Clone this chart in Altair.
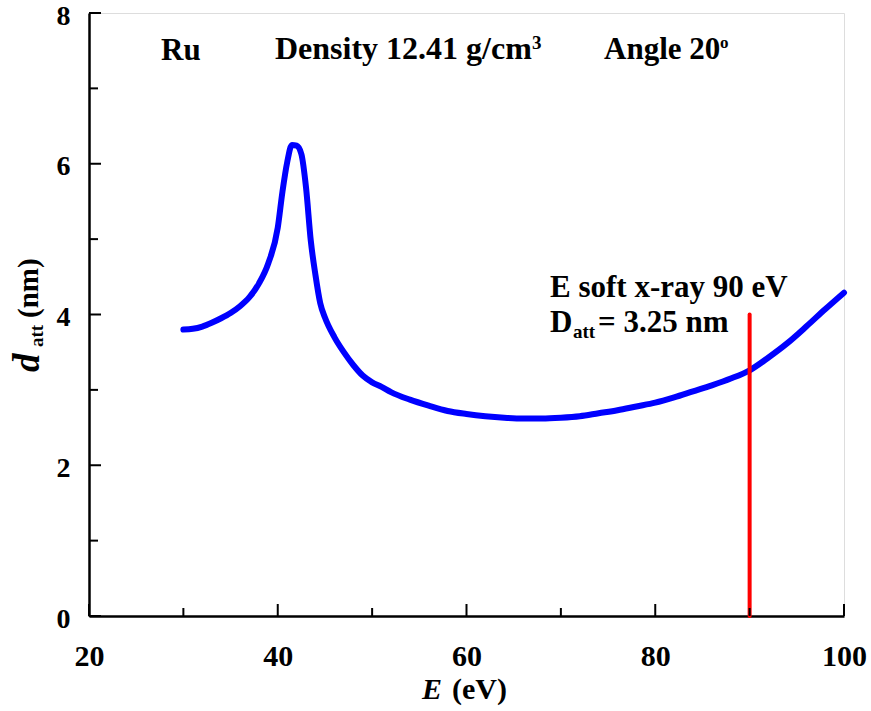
import altair as alt
import pandas as pd

# ---- data ----
energy = [30, 31, 32, 33, 34, 35, 36, 37, 38, 39, 40, 40.5, 41, 41.5, 42, 42.5, 43, 43.5, 44, 44.5, 45,
          46, 47, 48, 49, 50, 51, 52, 54, 56, 58, 60, 62, 64, 66, 68, 70, 72, 74, 76, 78, 80,
          82, 84, 86, 88, 90, 92, 94, 96, 98, 100]
d_att = [3.80, 3.81, 3.84, 3.89, 3.95, 4.02, 4.11, 4.23, 4.41, 4.68, 5.15, 5.63, 6.02, 6.25, 6.24, 6.13, 5.68, 4.98, 4.52, 4.15, 3.96,
         3.70, 3.50, 3.33, 3.19, 3.10, 3.04, 2.97, 2.87, 2.79, 2.72, 2.68, 2.65, 2.63, 2.62, 2.62, 2.63, 2.65, 2.69, 2.73, 2.78, 2.83,
         2.90, 2.98, 3.06, 3.15, 3.26, 3.43, 3.62, 3.84, 4.07, 4.29]

marker_energy = [90]
marker_top = [4]

x_major = [20, 40, 60, 80, 100]
x_minor = [30, 50, 70, 90]
y_major = [0, 2, 4, 6, 8]
y_minor = [1, 3, 5, 7]

FONT = "Liberation Serif"
W, H = 755, 603

curve_df = pd.DataFrame({"E": energy, "d": d_att})
marker_df = pd.DataFrame({"E": marker_energy, "y0": [0], "y1": marker_top})

xs = alt.Scale(domain=[20, 100], nice=False, zero=False)
ys = alt.Scale(domain=[0, 8], nice=False, zero=False)

base_x_axis = alt.Axis(values=x_major, format="d", title=None, ticks=False, grid=False,
                       domainColor="black", domainWidth=2.5, labelFont=FONT, labelFontSize=30,
                       labelFontWeight="bold", labelColor="black", labelPadding=25, labelFlush=False)
base_y_axis = alt.Axis(values=y_major, format="d", title=None, ticks=False, grid=False,
                       domainColor="black", domainWidth=2.5, labelFont=FONT, labelFontSize=28,
                       labelFontWeight="bold", labelColor="black", labelPadding=19, labelOffset=3,
                       labelFlush=False)

curve = alt.Chart(curve_df).mark_line(color="#0000FF", strokeWidth=6, strokeCap="round",
                                      strokeJoin="round", interpolate="monotone").encode(
    x=alt.X("E:Q", scale=xs, axis=base_x_axis),
    y=alt.Y("d:Q", scale=ys, axis=base_y_axis),
)

marker = alt.Chart(marker_df).mark_rule(color="#FF0000", strokeWidth=4, strokeCap="round").encode(
    x=alt.X("E:Q", scale=xs), y=alt.Y("y0:Q", scale=ys), y2="y1:Q"
)

def xticks(vals, length):
    return alt.Chart(pd.DataFrame({"v": vals})).mark_rule(color="black", strokeWidth=2).encode(
        x=alt.X("v:Q", scale=xs), y=alt.value(H), y2=alt.value(H - length))

def yticks(vals, length):
    return alt.Chart(pd.DataFrame({"v": vals})).mark_rule(color="black", strokeWidth=2).encode(
        y=alt.Y("v:Q", scale=ys), x=alt.value(0), x2=alt.value(length))

def label(text, px, py, size=31, style="normal", weight="bold", angle=0):
    return alt.Chart(pd.DataFrame({"t": [text]})).mark_text(
        font=FONT, fontSize=size, fontWeight=weight, fontStyle=style, color="black",
        align="left", baseline="alphabetic", angle=angle).encode(
        text="t:N", x=alt.value(px), y=alt.value(py))

ox, oy = 89, 13  # plot origin in the page
texts = [
    label("Ru", 161 - ox, 60 - oy),
    label("Density 12.41 g/cm", 275 - ox, 59 - oy, size=32),
    label("3", 532 - ox, 49 - oy, size=19),
    label("Angle 20", 604 - ox, 59 - oy, size=31),
    label("o", 720 - ox, 48 - oy, size=17),
    label("E soft x-ray 90 eV", 550 - ox, 297 - oy),
    label("D", 550 - ox, 332 - oy),
    label("att", 573 - ox, 338 - oy, size=19),
    label("= 3.25 nm", 598 - ox, 332 - oy),
    # x title
    label("E", 422 - ox, 699 - oy, size=30, style="italic"),
    label("(eV)", 452 - ox, 699 - oy, size=30),
    # y title (rotated)
    label("d", 39 - ox, 372 - oy, size=37, style="italic", angle=270),
    label("att", 43 - ox, 347 - oy, size=19, angle=270),
    label("(nm)", 38 - ox, 318 - oy, size=29, angle=270),
]

chart = alt.layer(
    curve, marker,
    xticks(x_major, 12), xticks(x_minor, 8),
    yticks(y_major, 12), yticks(y_minor, 9),
    *texts,
).properties(
    width=W, height=H,
    autosize=alt.AutoSizeParams(type="none"),
    padding={"left": 89, "top": 13, "right": 27, "bottom": 95},
).configure_view(stroke="#808080", strokeWidth=1.5).configure(background="white")

chart.save("out.html", embed_options={"renderer": "svg", "actions": False})
